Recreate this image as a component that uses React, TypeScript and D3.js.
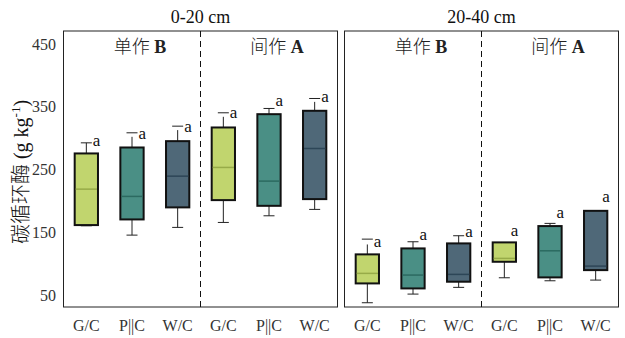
import React from 'react';
import * as d3 from 'd3';

const depths = ['0-20 cm', '20-40 cm'];
const systems = ['单作', '间作'];
const systemGrades = ['B', 'A'];
const crops = ['G/C', 'P||C', 'W/C'];
const categories = ['单作 G/C', '单作 P||C', '单作 W/C', '间作 G/C', '间作 P||C', '间作 W/C'];
const yTicks = [50, 150, 250, 350, 450];

// per depth: six boxes (单作 G/C, P||C, W/C, 间作 G/C, P||C, W/C)
const q3 = [
  [275.8, 285.3, 295.4, 317.2, 338.4, 343.8],
  [114.9, 124.4, 132.4, 134, 160, 184.3],
];
const median = [
  [218.9, 207.3, 239.6, 253.5, 231.7, 283.7],
  [84.6, 81.9, 83, 108.5, 120.6, 96.2],
];
const q1 = [
  [161.6, 170.6, 189.8, 201.4, 192.3, 203],
  [68.6, 60.6, 71.3, 103.1, 78.2, 89.8],
];
const whiskerLow = [
  [160.5, 145.6, 157.9, 165.8, 176.4, 186.6],
  [37.8, 51.6, 62.3, 77.6, 72.8, 73.9],
];
const whiskerHigh = [
  [292.7, 302.3, 313, 334.2, 347.5, 358],
  [130.7, 135, 144.6, 134, 164.3, 184.3],
];
const capHigh: (number | null)[][] = [
  [292.7, 308.7, 319.3, 340.6, 347.5, 363.4],
  [139.2, 135, 144.6, null, 164.3, null],
];
const labelValue = [
  [294.3, 305, 315.7, 338.4, 358, 363.5],
  [132.4, 144, 149.3, 150.9, 179, 204],
];
const letters = [
  ['a', 'a', 'a', 'a', 'a', 'a'],
  ['a', 'a', 'a', 'a', 'a', 'a'],
];

const fills = ['#c1d56e', '#4a8f85', '#4f6878'];
const medianColors = ['#97ab48', '#2c6a61', '#2d4657'];

const W = 625;
const H = 338;
const panelTop = 31;
const panelBottom = 307;
const panelLefts = [63.5, 344.5];
const panelWidth = 274;
const serif = '"Liberation Serif"';
const cjk = '"Noto Sans CJK SC"';
const serifStyle = { fontFamily: serif };
const cjkStyle = { fontFamily: cjk, fontWeight: 300 };

export default function App() {
  const y = d3.scaleLinear().domain([31, 471]).range([panelBottom, panelTop]);

  return (
    <svg width={W} height={H} style={{ position: 'absolute', left: 0, top: 0, background: '#fff' }}>
      <rect x={0} y={0} width={W} height={H} fill="#fff" />
      <text
        transform={`translate(28,${172}) rotate(-90)`}
        textAnchor="middle"
        fontSize={20}
        fill="#111"
        style={serifStyle}
      >
        <tspan style={cjkStyle}>碳循环酶</tspan>
        <tspan style={serifStyle}> (g kg</tspan>
        <tspan style={serifStyle} fontSize={13} dy={-8}>-1</tspan>
        <tspan style={serifStyle} dy={8}>)</tspan>
      </text>
      {yTicks.map((t) => (
        <text key={t} x={56} y={y(t) + 5.5} textAnchor="end" fontSize={16} fill="#333" style={serifStyle}>
          {t}
        </text>
      ))}
      {depths.map((depth, di) => {
        const x = d3
          .scaleBand<string>()
          .domain(categories)
          .range([panelLefts[di], panelLefts[di] + panelWidth])
          .padding(0);
        const bw = x.bandwidth() * 0.51;
        const midX = panelLefts[di] + panelWidth / 2;
        return (
          <g key={depth}>
            <text x={midX} y={23} textAnchor="middle" fontSize={18} fill="#111" style={serifStyle}>
              {depth}
            </text>
            <rect
              x={panelLefts[di]}
              y={panelTop}
              width={panelWidth}
              height={panelBottom - panelTop}
              fill="none"
              stroke="#222"
              strokeWidth={1}
            />
            <line x1={midX} x2={midX} y1={panelTop} y2={panelBottom} stroke="#111" strokeWidth={1} strokeDasharray="6,4" />
            {systems.map((s, si) => {
              const cx = panelLefts[di] + panelWidth * (si * 2 + 1) / 4 + 8;
              return (
                <text key={s} x={cx} y={53} textAnchor="middle" fontSize={18} fill="#222" style={serifStyle}>
                  <tspan style={cjkStyle}>{s}</tspan>
                  <tspan style={{ fontFamily: serif, fontWeight: 'bold' }}> {systemGrades[si]}</tspan>
                </text>
              );
            })}
            {categories.map((c, i) => {
              const cx = (x(c) as number) + x.bandwidth() / 2;
              const ci = i % 3;
              const cap = capHigh[di][i];
              return (
                <g key={c}>
                  <line x1={cx} x2={cx} y1={y(q1[di][i])} y2={y(whiskerLow[di][i])} stroke="#222" strokeWidth={1} />
                  <line x1={cx - 5.5} x2={cx + 5.5} y1={y(whiskerLow[di][i])} y2={y(whiskerLow[di][i])} stroke="#222" strokeWidth={1} />
                  {whiskerHigh[di][i] > q3[di][i] && (
                    <line x1={cx} x2={cx} y1={y(q3[di][i])} y2={y(whiskerHigh[di][i])} stroke="#222" strokeWidth={1} />
                  )}
                  {cap !== null && (
                    <line x1={cx - 5.5} x2={cx + 5.5} y1={y(cap)} y2={y(cap)} stroke="#222" strokeWidth={1} />
                  )}
                  <rect
                    x={cx - bw / 2}
                    y={y(q3[di][i])}
                    width={bw}
                    height={y(q1[di][i]) - y(q3[di][i])}
                    fill={fills[ci]}
                    stroke="#111"
                    strokeWidth={2}
                  />
                  <line
                    x1={cx - bw / 2 + 1}
                    x2={cx + bw / 2 - 1}
                    y1={y(median[di][i])}
                    y2={y(median[di][i])}
                    stroke={medianColors[ci]}
                    strokeWidth={1.5}
                  />
                  <text x={cx + 6.5} y={y(labelValue[di][i]) + 4} fontSize={17} fill="#111" style={serifStyle}>
                    {letters[di][i]}
                  </text>
                  <text x={cx} y={331} textAnchor="middle" fontSize={16} fill="#333" style={serifStyle}>
                    {crops[ci]}
                  </text>
                </g>
              );
            })}
          </g>
        );
      })}
    </svg>
  );
}
